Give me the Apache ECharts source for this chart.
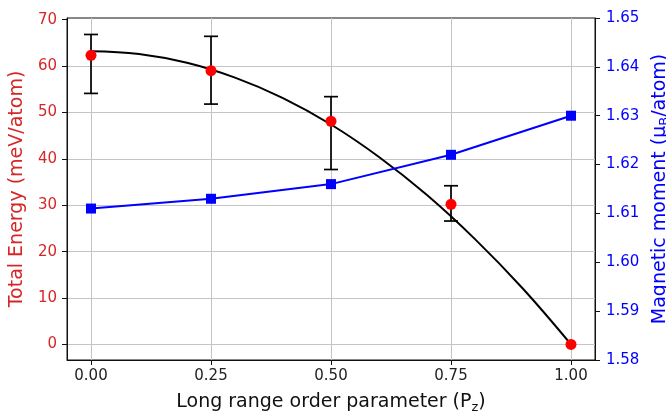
<!DOCTYPE html>
<html>
<head>
<meta charset="utf-8">
<script src="https://cdn.jsdelivr.net/npm/echarts@6/dist/echarts.min.js"></script>
<style>
  html, body { margin: 0; padding: 0; background: #fff; }
  #chart { width: 666px; height: 412px; }
</style>
</head>
<body>
<div id="chart"></div>
<script>
// order parameter values where the energies/moments were computed
const orderParam = [0.00, 0.25, 0.50, 0.75, 1.00];
// total energy (meV/atom) and its error range
const energy = [62.3, 59.0, 48.1, 30.2, 0.0];
const energyLow = [54.1, 51.8, 37.7, 26.6, 0.0];
const energyHigh = [66.8, 66.4, 53.4, 34.2, 0.0];
// magnetic moment (muB/atom)
const moment = [1.611, 1.613, 1.616, 1.622, 1.630];
// fitted energy curve
const fitX = [0.0, 0.1, 0.2, 0.3, 0.4, 0.5, 0.6, 0.7, 0.8, 0.9, 1.0];
const fitY = [63.2, 62.6, 60.7, 57.5, 53.1, 47.4, 40.4, 32.2, 22.7, 12.0, 0.0];
// tick labels
const xTicks = [0, 0.25, 0.5, 0.75, 1.0];
const energyTicks = [0, 10, 20, 30, 40, 50, 60, 70];

const RED = '#d62728';
const BLUE = '#0000ff';
const FONT = 'DejaVu Sans';
const TICK_SIZE = 15;
const TITLE_SIZE = 19;

const chart = echarts.init(document.getElementById('chart'), null, { renderer: 'canvas' });

// error bars: vertical line plus caps
function renderErrorBar(params, api) {
    const x = api.value(0);
    const lo = api.coord([x, api.value(1)]);
    const hi = api.coord([x, api.value(2)]);
    const half = 7;
    const style = { stroke: '#000', lineWidth: 1.7 };
    return {
        type: 'group',
        children: [
            { type: 'line', shape: { x1: lo[0], y1: lo[1], x2: hi[0], y2: hi[1] }, style: style },
            { type: 'line', shape: { x1: lo[0] - half, y1: lo[1], x2: lo[0] + half, y2: lo[1] }, style: style },
            { type: 'line', shape: { x1: hi[0] - half, y1: hi[1], x2: hi[0] + half, y2: hi[1] }, style: style }
        ]
    };
}

const errData = orderParam
    .map((x, i) => [x, energyLow[i], energyHigh[i]])
    .filter(d => d[2] > d[1]);

// the 70 line sits on the top spine, so skip it
const gridLines = xTicks.map(v => ({ xAxis: v }))
    .concat(energyTicks.filter(v => v < 70).map(v => ({ yAxis: v })));

const option = {
    animation: false,
    backgroundColor: '#fff',
    textStyle: { fontFamily: FONT },
    grid: {
        left: 67, right: 71, top: 18, bottom: 52,
        outerBoundsMode: 'none',
        containLabel: false,
        show: true, borderColor: '#111', borderWidth: 1, backgroundColor: 'transparent'
    },
    xAxis: {
        type: 'value',
        min: -0.05, max: 1.05,
        name: 'Long range order parameter (P{sub|z})',
        nameLocation: 'middle',
        nameGap: 31,
        nameTextStyle: {
            fontFamily: FONT, fontSize: TITLE_SIZE, color: '#111',
            rich: { sub: { fontFamily: FONT, fontSize: 13, color: '#111', padding: [10, 0, 0, 0] } }
        },
        axisLine: { show: true, onZero: false, lineStyle: { color: '#111', width: 1 } },
        axisTick: { show: true, customValues: xTicks, length: 5, lineStyle: { color: '#111' } },
        axisLabel: {
            customValues: xTicks, margin: 9,
            fontFamily: FONT, fontSize: TICK_SIZE, color: '#222',
            formatter: v => v.toFixed(2)
        },
        splitLine: { show: false }
    },
    yAxis: [
        {
            type: 'value',
            position: 'left',
            min: -3.35, max: 70.35,
            name: 'Total Energy (meV/atom)',
            nameLocation: 'middle',
            nameRotate: 90,
            nameGap: 34,
            nameTextStyle: { fontFamily: FONT, fontSize: TITLE_SIZE, color: RED },
            axisLine: { show: true, onZero: false, lineStyle: { color: '#111', width: 1 } },
            axisTick: { show: true, customValues: energyTicks, length: 5, lineStyle: { color: '#111' } },
            axisLabel: { customValues: energyTicks, margin: 10, fontFamily: FONT, fontSize: TICK_SIZE, color: RED },
            splitLine: { show: false }
        },
        {
            type: 'value',
            position: 'right',
            min: 1.58, max: 1.65, interval: 0.01,
            name: 'Magnetic moment (μ{sub|B}/atom)',
            nameLocation: 'middle',
            nameRotate: 90,
            nameGap: 51,
            nameTextStyle: {
                fontFamily: FONT, fontSize: TITLE_SIZE, color: BLUE,
                rich: { sub: { fontFamily: FONT, fontSize: 13, color: BLUE, padding: [10, 0, 0, 0] } }
            },
            axisLine: { show: true, onZero: false, lineStyle: { color: '#111', width: 1 } },
            axisTick: { show: true, length: 5, lineStyle: { color: '#111' } },
            axisLabel: {
                margin: 11, fontFamily: FONT, fontSize: TICK_SIZE, color: BLUE,
                formatter: v => v.toFixed(2)
            },
            splitLine: { show: false }
        }
    ],
    series: [
        {
            // grid lines only
            type: 'line',
            data: [],
            z: 0,
            markLine: {
                silent: true,
                z: 0,
                symbol: 'none',
                label: { show: false },
                emphasis: { disabled: true },
                lineStyle: { color: '#c4c4c4', width: 1, type: 'solid', opacity: 1 },
                data: gridLines
            }
        },
        {
            type: 'custom',
            yAxisIndex: 0,
            renderItem: renderErrorBar,
            encode: { x: 0, y: [1, 2] },
            data: errData,
            z: 2
        },
        {
            type: 'line',
            yAxisIndex: 0,
            data: fitX.map((x, i) => [x, fitY[i]]),
            smooth: 0.4,
            showSymbol: false,
            lineStyle: { color: '#000', width: 2 },
            z: 3
        },
        {
            type: 'scatter',
            yAxisIndex: 0,
            data: orderParam.map((x, i) => [x, energy[i]]),
            symbol: 'circle',
            symbolSize: 11,
            itemStyle: { color: '#ff0000', opacity: 1 },
            z: 4
        },
        {
            type: 'line',
            yAxisIndex: 1,
            data: orderParam.map((x, i) => [x, moment[i]]),
            symbol: 'rect',
            symbolSize: 10,
            showAllSymbol: true,
            lineStyle: { color: BLUE, width: 2 },
            itemStyle: { color: BLUE, opacity: 1 },
            z: 5
        }
    ]
};

chart.setOption(option);
</script>
</body>
</html>
